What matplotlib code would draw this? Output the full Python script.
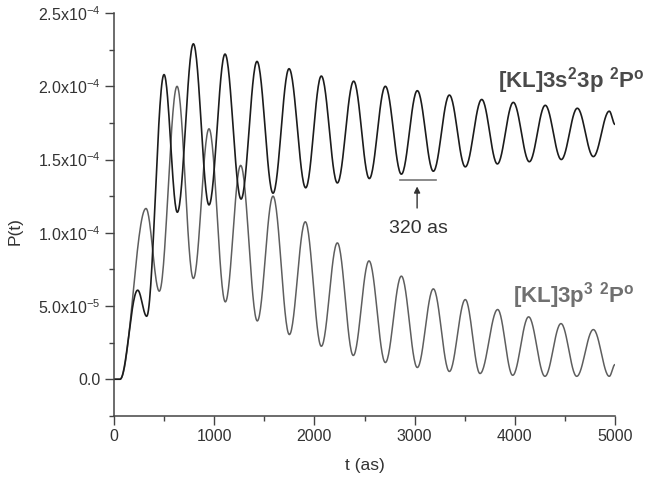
import numpy as np
import matplotlib.pyplot as plt
from matplotlib.ticker import MultipleLocator

plt.rcParams['font.family'] = ['Liberation Sans', 'DejaVu Sans']
plt.rcParams['mathtext.default'] = 'regular'

# extrema (t in as, P in units of 1e-5)
t_3s23p = [0, 60, 236, 326, 499, 632, 792, 948, 1108, 1268, 1427, 1587, 1747,
           1913, 2069, 2229, 2392, 2548, 2708, 2868, 3027, 3187, 3347, 3506,
           3670, 3826, 3985, 4145, 4304, 4464, 4624, 4784, 4943, 5000]
p_3s23p = [0, 0, 6.08, 4.30, 20.8, 11.4, 22.9, 11.9, 22.2, 12.3, 21.7, 12.7, 21.2,
           13.07, 20.7, 13.4, 20.35, 13.7, 20.0, 14.0, 19.7, 14.2, 19.4, 14.5,
           19.1, 14.7, 18.9, 14.85, 18.7, 15.0, 18.5, 15.2, 18.3, 17.4]

t_3p3 = [0, 60, 319, 452, 629, 792, 948, 1111, 1264, 1430, 1587, 1750, 1909,
         2069, 2229, 2388, 2545, 2708, 2868, 3027, 3187, 3347, 3506, 3653,
         3829, 3979, 4138, 4301, 4461, 4618, 4784, 4943, 5000]
p_3p3 = [0, 0, 11.66, 6.01, 20.0, 6.88, 17.1, 5.28, 14.6, 3.98, 12.5, 3.05, 10.75,
         2.25, 9.31, 1.62, 8.08, 1.14, 7.04, 0.80, 6.17, 0.53, 5.44, 0.39,
         4.76, 0.27, 4.26, 0.20, 3.8, 0.20, 3.39, 0.20, 1.0]

ytick_vals = [0, 5e-5, 1e-4, 1.5e-4, 2e-4, 2.5e-4]
ytick_labels = ['0.0', '5.0x10$^{-5}$', '1.0x10$^{-4}$', '1.5x10$^{-4}$',
                '2.0x10$^{-4}$', '2.5x10$^{-4}$']


def smooth(tk, pk, n=30):
    # half-cosine blend between successive extrema
    ts, ps = [], []
    for i in range(len(tk) - 1):
        s = np.linspace(0, 1, n, endpoint=False)
        w = (1 - np.cos(np.pi * s)) / 2
        ts.append(tk[i] + (tk[i + 1] - tk[i]) * s)
        ps.append(pk[i] + (pk[i + 1] - pk[i]) * w)
    ts.append([tk[-1]])
    ps.append([pk[-1]])
    return np.concatenate(ts), np.concatenate(ps) * 1e-5


fig = plt.figure(figsize=(6.46, 4.83), dpi=100)
ax = fig.add_axes([0.1765, 0.139, 0.7755, 0.834])

t1, p1 = smooth(t_3s23p, p_3s23p)
t2, p2 = smooth(t_3p3, p_3p3)
ax.plot(t2, p2, color='#5e5e5e', lw=1.1)
ax.plot(t1, p1, color='#1c1c1c', lw=1.2)

ax.set_xlim(0, 5000)
ax.set_ylim(-2.5e-5, 2.5e-4)
ax.xaxis.set_major_locator(MultipleLocator(1000))
ax.xaxis.set_minor_locator(MultipleLocator(500))
ax.set_yticks(ytick_vals)
ax.set_yticklabels(ytick_labels)
ax.yaxis.set_minor_locator(MultipleLocator(2.5e-5))

for side in ['top', 'right']:
    ax.spines[side].set_visible(False)
for side in ['left', 'bottom']:
    ax.spines[side].set_color('#444444')
    ax.spines[side].set_linewidth(1.1)
ax.tick_params(which='both', direction='out', color='#444444', width=1.0,
               labelsize=11.5, labelcolor='#333333', pad=3)
ax.tick_params(which='major', length=6.5)
ax.tick_params(which='minor', length=3.6)

ax.set_xlabel('t (as)', fontsize=12.5, color='#333333')
ax.set_ylabel('P(t)', fontsize=12.5, color='#333333')
ax.xaxis.set_label_coords(0.5, -0.105)
ax.yaxis.set_label_coords(-0.182, 0.46)

ax.text(3835, 19.92e-5, '[KL]3s$^2$3p $^2$P$^o$', fontsize=16,
        fontweight='bold', color='#4a4a4a', va='baseline', ha='left')
ax.text(3985, 5.21e-5, '[KL]3p$^3$ $^2$P$^o$', fontsize=16,
        fontweight='bold', color='#707070', va='baseline', ha='left')

# 320 as period marker
ax.plot([2850, 3215], [13.6e-5, 13.6e-5], color='#777777', lw=1.2)
ax.annotate('', xy=(3025, 13.35e-5), xytext=(3025, 11.5e-5),
            arrowprops=dict(arrowstyle='-|>', color='#333333', lw=1.0,
                            mutation_scale=9))
ax.text(3040, 10.3e-5, '320 as', fontsize=14, color='#333333',
        ha='center', va='center')

fig.savefig('out.png', dpi=100)
